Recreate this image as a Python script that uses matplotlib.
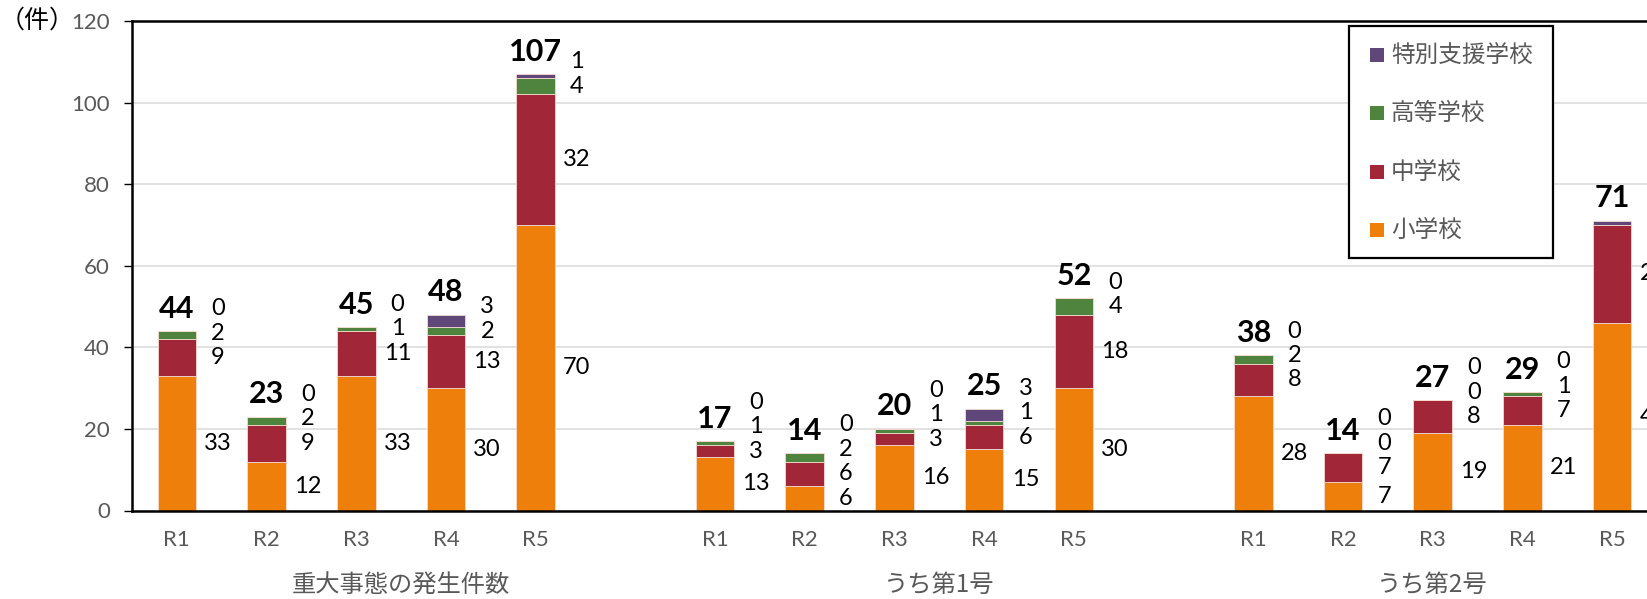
import matplotlib
matplotlib.use("Agg")
import matplotlib.pyplot as plt
from matplotlib.patches import Rectangle
import matplotlib.transforms as mtransforms

# ---------------- data ----------------
groups = ["重大事態の発生件数", "うち第1号", "うち第2号"]
years = ["R1", "R2", "R3", "R4", "R5"]
series_names = ["小学校", "中学校", "高等学校", "特別支援学校"]
colors = ["#EF7F0B", "#A12738", "#4F843F", "#5F4879"]

elementary = [33, 12, 33, 30, 70,   13, 6, 16, 15, 30,   28, 7, 19, 21, 46]
junior     = [9, 9, 11, 13, 32,     3, 6, 3, 6, 18,      8, 7, 8, 7, 24]
high       = [2, 2, 1, 2, 4,        1, 2, 1, 1, 4,       2, 0, 0, 1, 0]
special    = [0, 0, 0, 3, 1,        0, 0, 0, 3, 0,       0, 0, 0, 0, 1]
series = [elementary, junior, high, special]

yticks = [0, 20, 40, 60, 80, 100, 120]

# ---------------- style ----------------
NUM = ["Lato", "Noto Sans CJK JP"]
JP = ["Noto Sans CJK JP", "DejaVu Sans"]
GREY = "#595959"

W, H = 1647, 599
fig = plt.figure(figsize=(W / 100, H / 100), dpi=100)

slot = 89.7
left_px, top_px, base_px = 132, 21, 510.5
ax = fig.add_axes([left_px / W, (H - base_px) / H, 17 * slot / W, (base_px - top_px) / H])

# x positions: each group occupies 6 slots (last one empty)
xs = []
for g in range(len(groups)):
    for i in range(len(years)):
        xs.append(6 * g + i)

bw = 0.43
bottoms = [0] * len(xs)
for vals, col in zip(series, colors):
    ax.bar(xs, vals, bw, bottom=bottoms, color=col, edgecolor="#F6D9CF",
           linewidth=0.6, zorder=3)
    bottoms = [b + v for b, v in zip(bottoms, vals)]

ax.set_xlim(-0.5, 16.5)
ax.set_ylim(0, 120)
ax.set_yticks(yticks)
ax.set_yticklabels([str(t) for t in yticks], fontfamily=NUM, fontsize=16, color=GREY)
ax.tick_params(axis="y", length=6, width=1, color="black", pad=10)
ax.set_xticks(xs)
ax.set_xticklabels(years * len(groups), fontfamily=NUM, fontsize=16, color=GREY)
ax.tick_params(axis="x", length=0, pad=14)

ax.grid(axis="y", color="#DDDDDD", linewidth=1.2, zorder=0)
for s in ["left", "bottom", "top", "right"]:
    ax.spines[s].set_color("black")
    ax.spines[s].set_linewidth(1.8)
    ax.spines[s].set_zorder(4)

# segment labels (right of bars, pushed apart when crowded)
gap = 6.0
for k, x in enumerate(xs):
    cum = 0
    ys = []
    for vals in series:
        v = vals[k]
        ys.append(cum + v / 2)
        cum += v
    for i in range(1, len(ys)):
        if ys[i] < ys[i - 1] + gap:
            ys[i] = ys[i - 1] + gap
    for vals, yy in zip(series, ys):
        ax.text(x + 0.46, yy, str(vals[k]), ha="center", va="center",
                fontfamily=NUM, fontsize=17, color="black", zorder=5, clip_on=False)
    ax.text(x, cum + 5.5, str(cum), ha="center", va="center", fontfamily=NUM,
            fontsize=22, fontweight="bold", color="black", zorder=5, clip_on=False)

# group labels
trans = mtransforms.blended_transform_factory(ax.transData, ax.transAxes)
group_centers = [2.5, 8.5, 14.0]
for gx, name in zip(group_centers, groups):
    ax.text(gx, -0.153, name, transform=trans, ha="center", va="center",
            fontfamily=JP, fontsize=17.5, color=GREY, clip_on=False)

# unit label
fig.text(0 / W, 1 - 21 / H, "（件）", ha="left", va="center", fontfamily=JP,
         fontsize=18, color="black")

# legend (drawn in figure pixel coordinates)
def fx(px):
    return px / W

def fy(py):
    return 1 - py / H

lx0, lx1, ly0, ly1 = 1349, 1553, 26, 258
fig.patches.append(Rectangle((fx(lx0), fy(ly1)), fx(lx1) - fx(lx0), fy(ly0) - fy(ly1),
                             transform=fig.transFigure, facecolor="white",
                             edgecolor="black", linewidth=1.6, zorder=10))
leg_y = [55, 113, 172, 230]
for idx, yy in zip([3, 2, 1, 0], leg_y):
    fig.patches.append(Rectangle((fx(1370), fy(yy + 7)), fx(14), 14 / H,
                                 transform=fig.transFigure, facecolor=colors[idx],
                                 edgecolor="none", zorder=11))
    fig.text(fx(1391), fy(yy), series_names[idx], ha="left", va="center",
             fontfamily=JP, fontsize=17, color=GREY, zorder=12)

fig.savefig("out.png", dpi=100)
